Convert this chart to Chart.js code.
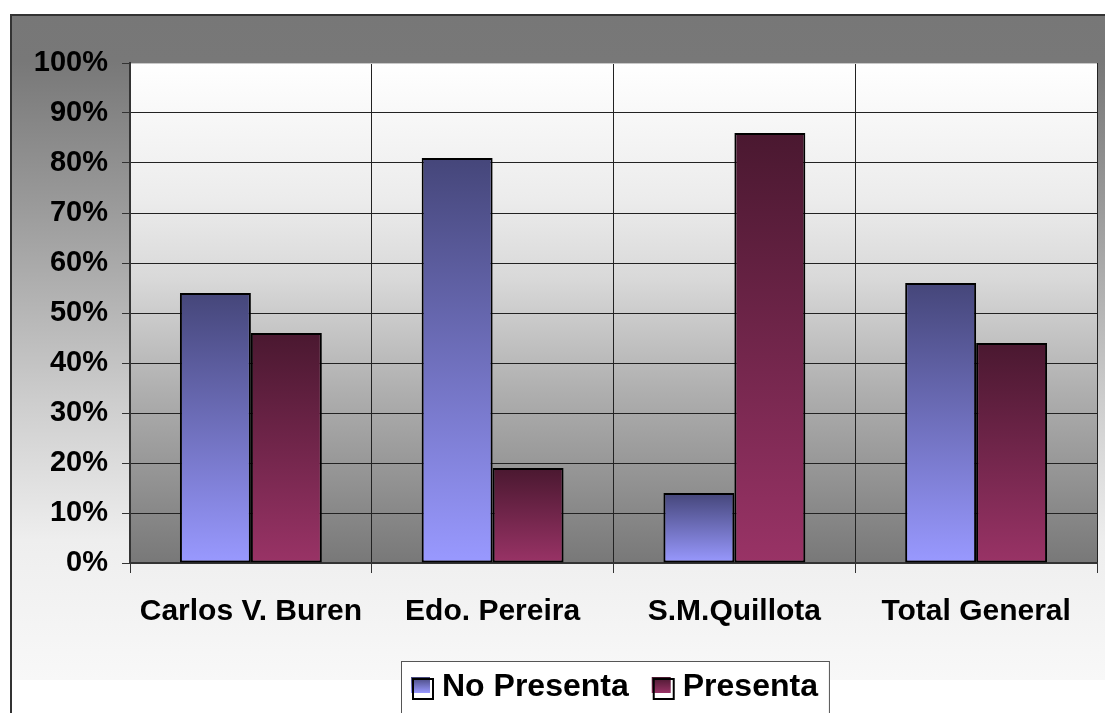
<!DOCTYPE html>
<html>
<head>
<meta charset="utf-8">
<script src="https://cdn.jsdelivr.net/npm/chart.js@4.4.1/dist/chart.umd.min.js"></script>
<style>
  html, body { margin: 0; padding: 0; background: #fff; }
  #wrap { width: 1105px; height: 713px; position: relative; }
</style>
</head>
<body>
<div id="wrap"><canvas id="chart"></canvas></div>
<script>
const categories = ['Carlos V. Buren', 'Edo. Pereira', 'S.M.Quillota', 'Total General'];
const seriesNames = ['No Presenta', 'Presenta'];
const noPresenta = [54, 81, 14, 56];
const presenta = [46, 19, 86, 44];
const yTicks = [0, 10, 20, 30, 40, 50, 60, 70, 80, 90, 100];

const FONT = '"Liberation Sans", Arial, sans-serif';
const BLUE = { top: '#45467a', bottom: '#9999ff' };
const WINE = { top: '#4a1830', bottom: '#993366' };

// each bar gets its own dark-to-light gradient, top of bar to baseline
function barFill(c) {
  return ctx => {
    const chart = ctx.chart;
    const y = chart.scales.y;
    if (!chart.chartArea || !y || ctx.type !== 'data') return c.bottom;
    const top = y.getPixelForValue(ctx.raw);
    const base = y.getPixelForValue(0);
    const g = chart.ctx.createLinearGradient(0, top, 0, base);
    g.addColorStop(0, c.top);
    g.addColorStop(1, c.bottom);
    return g;
  };
}

const backdrop = {
  id: 'backdrop',
  beforeDraw(chart) {
    const { ctx, width, height, chartArea: a } = chart;
    ctx.save();
    ctx.fillStyle = '#fff';
    ctx.fillRect(0, 0, width, height);

    const og = ctx.createLinearGradient(0, 15, 0, 680);
    og.addColorStop(0, '#777777');
    og.addColorStop(0.07, '#787878');
    og.addColorStop(0.28, '#999999');
    og.addColorStop(0.58, '#cdcdcd');
    og.addColorStop(0.79, '#eeeeee');
    og.addColorStop(1, '#f8f8f8');
    ctx.fillStyle = og;
    ctx.fillRect(11, 15, width - 11, 665);

    ctx.strokeStyle = '#333';
    ctx.lineWidth = 2;
    ctx.beginPath();
    ctx.moveTo(11, height);
    ctx.lineTo(11, 15);
    ctx.lineTo(width, 15);
    ctx.stroke();

    const pg = ctx.createLinearGradient(0, a.top, 0, a.bottom);
    pg.addColorStop(0, '#ffffff');
    pg.addColorStop(0.27, '#ececec');
    pg.addColorStop(0.43, '#d9d9d9');
    pg.addColorStop(0.65, '#b0b0b0');
    pg.addColorStop(0.75, '#a0a0a0');
    pg.addColorStop(1, '#787878');
    ctx.fillStyle = pg;
    ctx.fillRect(a.left, a.top, a.right - a.left, a.bottom - a.top);
    ctx.restore();
  }
};

const boxLegend = {
  id: 'boxLegend',
  afterDraw(chart) {
    const { ctx, chartArea: a, height } = chart;
    ctx.save();
    ctx.font = 'bold 32px ' + FONT;
    const sw = 20, gap = 10, itemGap = 24, pad = 11;
    const items = chart.data.datasets.map((ds, i) => ({
      label: ds.label, c: i ? WINE : BLUE, w: ctx.measureText(ds.label).width
    }));
    let total = pad * 2 + itemGap * (items.length - 1);
    items.forEach(it => { total += sw + gap + it.w; });
    const left = Math.round((a.left + a.right) / 2 - total / 2 + 1);
    const top = 661, mid = 687;

    ctx.fillStyle = '#fff';
    ctx.fillRect(left, top, total, height - top + 5);
    ctx.strokeStyle = '#555';
    ctx.lineWidth = 1;
    ctx.strokeRect(left + 0.5, top + 0.5, total, height - top + 5);

    let x = left + pad;
    items.forEach(it => {
      ctx.fillStyle = '#fff';
      ctx.fillRect(x + 1, mid - 8, sw, sw);
      const g = ctx.createLinearGradient(0, mid - 10, 0, mid + 6);
      g.addColorStop(0, it.c.top);
      g.addColorStop(1, it.c.bottom);
      ctx.fillStyle = g;
      ctx.fillRect(x - 1, mid - 10, sw - 1, 16);
      ctx.strokeStyle = '#000';
      ctx.lineWidth = 2;
      ctx.strokeRect(x + 1, mid - 8, sw, sw);
      ctx.fillStyle = '#000';
      ctx.textBaseline = 'middle';
      ctx.textAlign = 'left';
      ctx.fillText(it.label, x + sw + gap, mid);
      x += sw + gap + it.w + itemGap;
    });
    ctx.restore();
  }
};

new Chart(document.getElementById('chart'), {
  type: 'bar',
  data: {
    labels: categories,
    datasets: [
      { label: seriesNames[0], data: noPresenta, backgroundColor: barFill(BLUE) },
      { label: seriesNames[1], data: presenta, backgroundColor: barFill(WINE) }
    ]
  },
  options: {
    responsive: true, maintainAspectRatio: false, animation: false,
    layout: { padding: { top: 63, right: 8, left: 0, bottom: 0 } },
    datasets: {
      bar: { categoryPercentage: 0.587, barPercentage: 1.0, borderColor: '#000', borderWidth: 2, borderSkipped: false }
    },
    plugins: { legend: { display: false }, tooltip: { enabled: false } },
    scales: {
      x: {
        afterFit: s => { s.height = 150; },
        grid: {
          offset: true, tickLength: 10, lineWidth: 1, tickColor: '#333',
          color: c => c.index === categories.length ? '#a8a8a8' : '#222'
        },
        border: { color: '#333', width: 2 },
        ticks: { color: '#000', padding: 21, font: { family: FONT, size: 30, weight: 'bold' } }
      },
      y: {
        min: 0, max: 100,
        afterFit: s => { s.width = 130; },
        afterBuildTicks: s => { s.ticks = yTicks.map(v => ({ value: v })); },
        grid: {
          tickLength: 8, lineWidth: 1, tickColor: '#333',
          color: c => c.tick && c.tick.value === 100 ? '#c8c8c8' : '#222'
        },
        border: { color: '#333', width: 2 },
        ticks: { color: '#000', padding: 14, callback: v => v + '%', font: { family: FONT, size: 29, weight: 'bold' } }
      }
    }
  },
  plugins: [backdrop, boxLegend]
});
</script>
</body>
</html>
